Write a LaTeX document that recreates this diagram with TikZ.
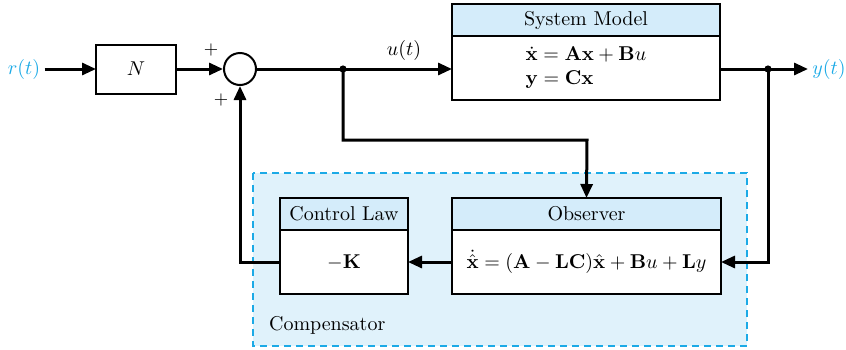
\documentclass[tikz,border=0pt]{standalone}
\usepackage{amsmath,amssymb,bm}
\usetikzlibrary{arrows.meta,positioning,calc}
\definecolor{sigcyan}{RGB}{28,170,230}
\definecolor{compfill}{RGB}{224,242,251}
\definecolor{headfill}{RGB}{212,236,250}

\begin{document}
\begin{tikzpicture}[x=0.5pt,y=-0.5pt, every node/.style={font=\normalsize},
    blk/.style={draw,line width=1pt,fill=white,inner sep=0pt,outer sep=0pt},
    headbox/.style={blk,fill=headfill,minimum height=16pt},
    bodybox/.style={blk,minimum height=32pt,anchor=north},
    wire/.style={line width=1.5pt},
    sig/.style={wire,-{Triangle[length=7pt,width=6pt]}},
    plus/.style={font=\small}]
  \useasboundingbox (0,0) rectangle (846,349);
  % compensator region
  \draw[sigcyan,line width=0.8pt,dash pattern=on 3.5pt off 2.5pt,fill=compfill]
    (253,173) rectangle (747,346);
  \node[anchor=west] (comp) at (262,325) {Compensator};

  % forward path
  \node[sigcyan,inner sep=2pt] (rt) at (24,69) {$r(t)$};
  \node[blk,minimum width=40pt,minimum height=24.5pt] (N) at (136,69) {$N$};
  \node[circle,draw,line width=1pt,fill=white,minimum size=16pt,inner sep=0pt] (sum) at (240,69) {};
  \node[plus] (p1) at (211,50) {$+$};
  \node[plus] (p2) at (221,100) {$+$};

  \node[headbox,minimum width=134pt] (smh) at (586,20) {System Model};
  \node[bodybox,minimum width=134pt] (smb) at (smh.south)
    {$\begin{array}{@{}l@{}}\dot{\mathbf{x}}=\mathbf{A}\mathbf{x}+\mathbf{B}u\\[0pt] \mathbf{y}=\mathbf{C}\mathbf{x}\end{array}$};

  \coordinate (ubr) at (343,69);
  \coordinate (ubend) at (587,140);
  \node (ut) at (404,50) {$u(t)$};
  \coordinate (ybr) at (768,69);
  \node[sigcyan,inner sep=2pt,anchor=west] (yt) at (808,69) {$y(t)$};

  % compensator blocks
  \node[headbox,minimum width=64pt] (clh) at (344,214) {Control Law};
  \node[bodybox,minimum width=64pt] (clb) at (clh.south) {$-\mathbf{K}$};
  \node[headbox,minimum width=134.5pt] (obh) at (586.5,214) {Observer};
  \node[bodybox,minimum width=134.5pt] (obb) at (obh.south)
    {$\dot{\hat{\mathbf{x}}}=(\mathbf{A}-\mathbf{L}\mathbf{C})\hat{\mathbf{x}}+\mathbf{B}u+\mathbf{L}y$};

  % connections
  \draw[sig] (rt) -- (N);
  \draw[sig] (N) -- (sum);
  \draw[sig] (sum) -- (sum -| smb.west);
  \draw[sig] (smb.east |- ybr) -- (yt);
  \draw[sig] (ubr) |- (ubend) -- (obh.north);
  \draw[sig] (ybr) |- (obb.east);
  \draw[sig] (obb) -- (clb);
  \draw[sig] (clb.west) -| (sum.south);
  \fill (ubr) circle (1.8pt) (ybr) circle (1.8pt);
\end{tikzpicture}
\end{document}
